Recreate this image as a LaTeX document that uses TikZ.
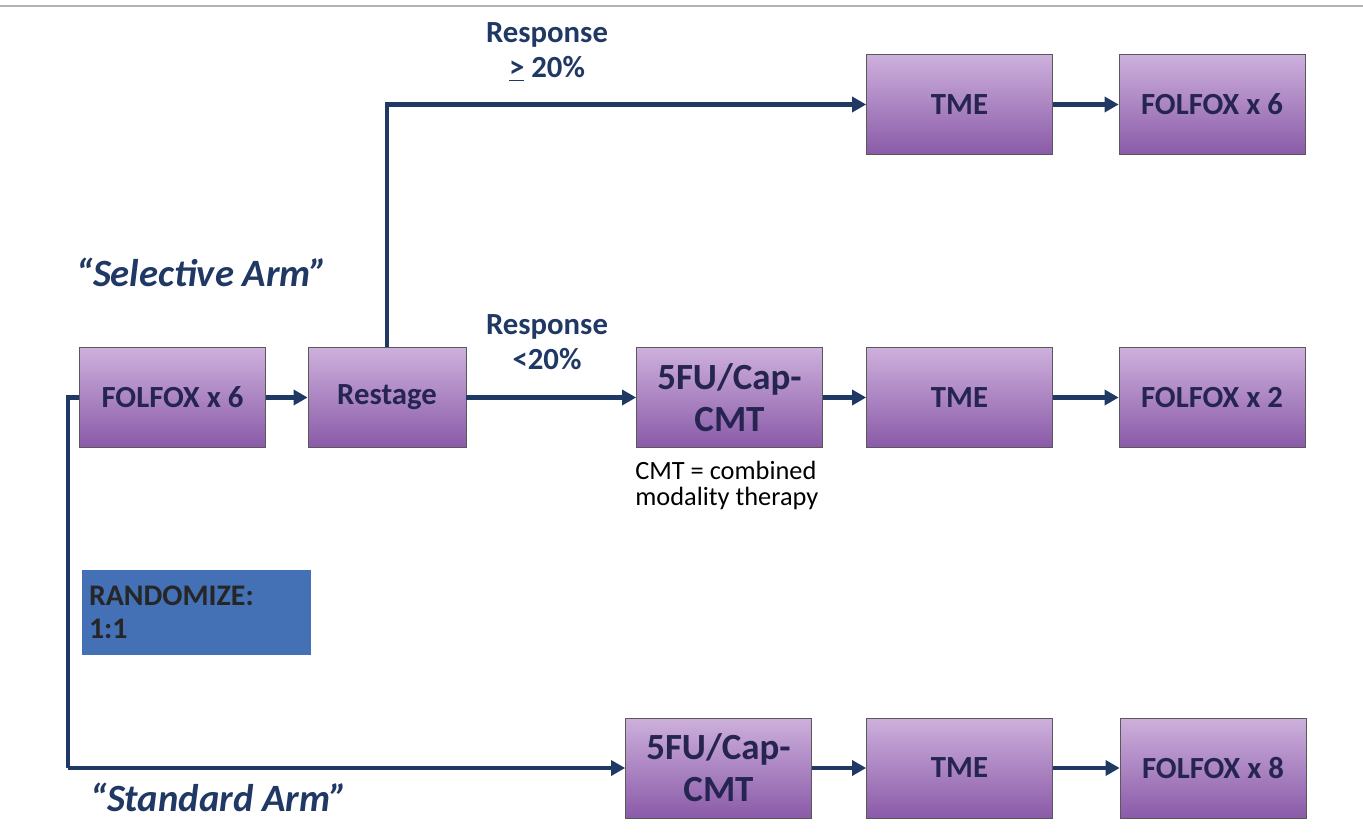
\documentclass[tikz,border=0pt]{standalone}
\usepackage{fontspec}
\setmainfont{Carlito}
\usetikzlibrary{arrows.meta,positioning,calc}
\definecolor{VNavy}{HTML}{1F3864}
\definecolor{VInk}{HTML}{262451}
\definecolor{VPlumTop}{HTML}{CDB0DC}
\definecolor{VPlumBot}{HTML}{8A5AA8}
\definecolor{VBlue}{HTML}{4470B5}

\begin{document}
\begin{tikzpicture}[x=0.02cm, y=-0.02cm,
        box/.style={draw=gray!70!black, line width=0.4pt, top color=VPlumTop, bottom color=VPlumBot,
                    minimum width=3.72cm, minimum height=2cm, align=center, text=VInk,
                    font=\fontsize{17.5}{18}\selectfont\bfseries},
        bigbox/.style={box, font=\fontsize{21}{24}\selectfont\bfseries},
        flow/.style={VNavy, line width=2.3pt, -{Triangle[length=8pt,width=8.5pt]}},
        link/.style={VNavy, line width=2.3pt},
        lbl/.style={text=VNavy, align=center, font=\fontsize{17.5}{20}\selectfont\bfseries},
        arm/.style={text=VNavy, anchor=west, font=\fontsize{22}{24}\selectfont\bfseries\itshape}]
        \useasboundingbox (0,0) rectangle (1363,835);
        \draw[gray!60, line width=1pt] (0,6) -- (1363,6);
        % selective arm
        \node[box] (fol6) at (172.5,397.5) {FOLFOX x 6};
        \node[box, minimum width=3.16cm] (restage) at (387,397.5) {Restage};
        \node[bigbox] (cmtA) at (729.5,397.5) {5FU/Cap-\\CMT};
        \node[box] (tmeA) at (959.5,397.5) {TME};
        \node[box] (fol2) at (1212,397.5) {FOLFOX x 2};
        \node[box] (tmeB) at (959.5,104.5) {TME};
        \node[box] (fol6b) at (1212,104.5) {FOLFOX x 6};
        % standard arm
        \node[bigbox] (cmtC) at (718.5,768) {5FU/Cap-\\CMT};
        \node[box] (tmeC) at (959.5,768) {TME};
        \node[box] (fol8) at (1213,768) {FOLFOX x 8};

        \draw[flow] (fol6) -- (restage);
        \draw[flow] (restage) -- (cmtA);
        \draw[flow] (cmtA) -- (tmeA);
        \draw[flow] (tmeA) -- (fol2);
        \draw[flow] (restage.north) |- (tmeB.west);
        \draw[flow] (tmeB) -- (fol6b);
        \draw[flow] (cmtC) -- (tmeC);
        \draw[flow] (tmeC) -- (fol8);

        \coordinate (split) at (68,397.5);
        \coordinate (turn) at (split |- cmtC.west);
        \draw[link] (fol6.west) -- (split) -- (turn);
        \draw[flow] (turn) -- (cmtC.west);

        \node[lbl] (resHi) at (547,52) {Response\\\underline{>} 20\%};
        \node[lbl] (resLo) at (547,342) {Response\\<20\%};
        \node[arm] (selArm) at (70,272) {``Selective Arm''};
        \node[arm] (stdArm) at (84,797) {``Standard Arm''};
        \node[anchor=north west, align=left, inner sep=0pt, font=\fontsize{15}{14.5}\selectfont] (cmtNote) at (635,461)
            {CMT = combined\\modality therapy};
        \node[fill=VBlue, minimum width=4.58cm, minimum height=1.7cm, text width=4.3cm, align=left,
              font=\fontsize{17}{19}\selectfont\bfseries, text=black!85] (rand) at (196.5,612.5) {RANDOMIZE:\\1:1};
\end{tikzpicture}
\end{document}
